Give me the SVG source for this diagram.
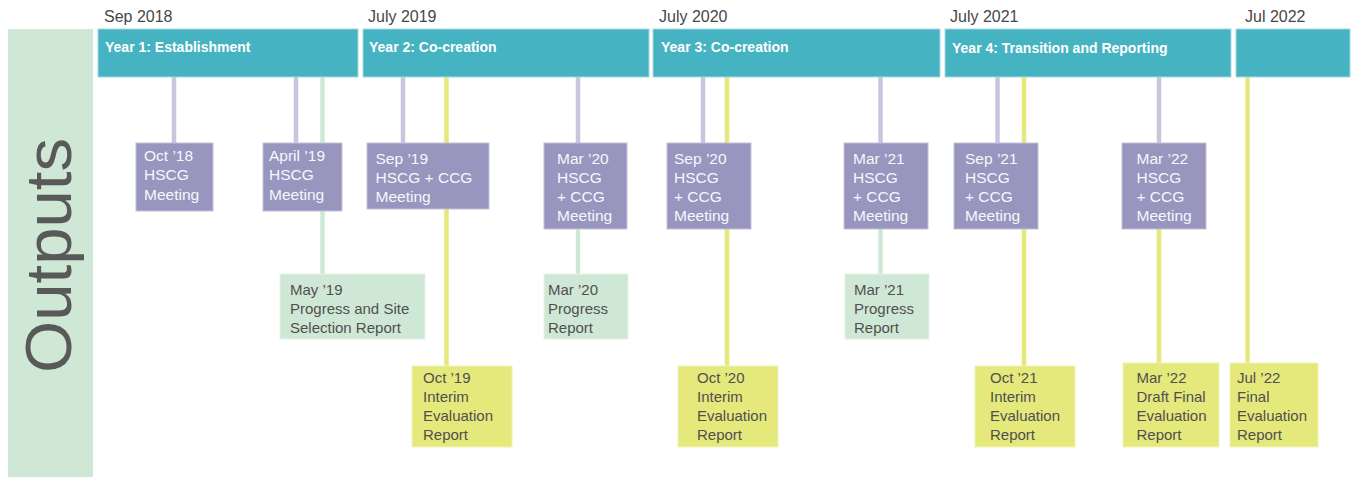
<svg xmlns="http://www.w3.org/2000/svg" width="1362" height="477" viewBox="0 0 1362 477">
<style>
text{font-family:"Liberation Sans",Arial,sans-serif}
.date{font-size:16px;fill:#474747}
.bar{fill:#45b3c2;stroke:#a6d9e0;stroke-width:1}
.bt{font-size:14px;font-weight:bold;fill:#ffffff}
.pb{fill:#9896bf;stroke:#c2c1dc;stroke-width:1}
.gb{fill:#cfe8d5;stroke:#e4f3e8;stroke-width:1}
.yb{fill:#e5e87b;stroke:#f1f3b6;stroke-width:1}
.pt{font-size:15.5px;fill:#f7f7fb}
.dt{font-size:15px;fill:#505050}
.lp{stroke:#c6c6df;stroke-width:4.5}
.lg{stroke:#cfe8d5;stroke-width:4.5}
.ly{stroke:#e5e87b;stroke-width:4.5}
</style>
<rect width="1362" height="477" fill="#ffffff"/>
<g id="outputs-label">
<rect x="8" y="29" width="85" height="448" fill="#cfe8d5"/>
<text transform="translate(71,373) rotate(-90)" font-size="64" fill="#595959" textLength="235" lengthAdjust="spacingAndGlyphs">Outputs</text>
</g>
<g id="dates">
<text class="date" x="104" y="22">Sep 2018</text>
<text class="date" x="368" y="22">July 2019</text>
<text class="date" x="659" y="22">July 2020</text>
<text class="date" x="950" y="22">July 2021</text>
<text class="date" x="1245" y="22">Jul 2022</text>
</g>
<g id="connectors">
<line class="lp" x1="174" y1="77" x2="174" y2="143"/>
<line class="lp" x1="296" y1="77" x2="296" y2="143"/>
<line class="lg" x1="322.5" y1="77" x2="322.5" y2="274"/>
<line class="lp" x1="403" y1="77" x2="403" y2="143"/>
<line class="ly" x1="446.5" y1="77" x2="446.5" y2="366"/>
<line class="lp" x1="578" y1="77" x2="578" y2="143"/>
<line class="lg" x1="578" y1="229" x2="578" y2="274"/>
<line class="lp" x1="703" y1="77" x2="703" y2="143"/>
<line class="ly" x1="727" y1="77" x2="727" y2="366"/>
<line class="lp" x1="880.5" y1="77" x2="880.5" y2="143"/>
<line class="lg" x1="880.5" y1="229" x2="880.5" y2="274"/>
<line class="lp" x1="997.5" y1="77" x2="997.5" y2="143"/>
<line class="ly" x1="1024" y1="77" x2="1024" y2="366"/>
<line class="lp" x1="1159" y1="77" x2="1159" y2="143"/>
<line class="ly" x1="1159" y1="229" x2="1159" y2="363"/>
<line class="ly" x1="1247.5" y1="77" x2="1247.5" y2="363"/>
</g>
<g id="year1"><rect class="bar" x="98" y="29" width="260" height="48"/><text class="bt" x="105" y="52">Year 1: Establishment</text></g>
<g id="year2"><rect class="bar" x="363" y="29" width="286" height="48"/><text class="bt" x="369" y="52">Year 2: Co-creation</text></g>
<g id="year3"><rect class="bar" x="653" y="29" width="287" height="48"/><text class="bt" x="661" y="52">Year 3: Co-creation</text></g>
<g id="year4"><rect class="bar" x="945" y="29" width="286" height="48"/><text class="bt" x="952" y="53">Year 4: Transition and Reporting</text></g>
<g id="year5"><rect class="bar" x="1236" y="29" width="114" height="48"/></g>

<g id="oct18"><rect class="pb" x="136" y="143" width="77" height="68"/><text class="pt"><tspan x="144" y="161">Oct ’18</tspan><tspan x="144" y="180">HSCG</tspan><tspan x="144" y="199.5">Meeting</tspan></text></g>
<g id="apr19"><rect class="pb" x="263" y="143" width="79" height="68"/><text class="pt"><tspan x="269" y="161">April ’19</tspan><tspan x="269" y="180">HSCG</tspan><tspan x="269" y="199.5">Meeting</tspan></text></g>
<g id="sep19"><rect class="pb" x="367" y="143" width="122" height="66"/><text class="pt"><tspan x="375.5" y="164">Sep ’19</tspan><tspan x="375.5" y="183">HSCG + CCG</tspan><tspan x="375.5" y="202">Meeting</tspan></text></g>
<g id="mar20"><rect class="pb" x="544" y="143" width="83" height="86"/><text class="pt"><tspan x="557" y="163.5">Mar ’20</tspan><tspan x="557" y="182.5">HSCG</tspan><tspan x="557" y="201.5">+ CCG</tspan><tspan x="557" y="221">Meeting</tspan></text></g>
<g id="sep20"><rect class="pb" x="667" y="143" width="84" height="86"/><text class="pt"><tspan x="674" y="163.5">Sep ’20</tspan><tspan x="674" y="182.5">HSCG</tspan><tspan x="674" y="201.5">+ CCG</tspan><tspan x="674" y="221">Meeting</tspan></text></g>
<g id="mar21"><rect class="pb" x="844" y="143" width="84" height="86"/><text class="pt"><tspan x="853" y="163.5">Mar ’21</tspan><tspan x="853" y="182.5">HSCG</tspan><tspan x="853" y="201.5">+ CCG</tspan><tspan x="853" y="221">Meeting</tspan></text></g>
<g id="sep21"><rect class="pb" x="954" y="143" width="84" height="86"/><text class="pt"><tspan x="965" y="163.5">Sep ’21</tspan><tspan x="965" y="182.5">HSCG</tspan><tspan x="965" y="201.5">+ CCG</tspan><tspan x="965" y="221">Meeting</tspan></text></g>
<g id="mar22"><rect class="pb" x="1122" y="143" width="84" height="86"/><text class="pt"><tspan x="1136.5" y="163.5">Mar ’22</tspan><tspan x="1136.5" y="182.5">HSCG</tspan><tspan x="1136.5" y="201.5">+ CCG</tspan><tspan x="1136.5" y="221">Meeting</tspan></text></g>

<g id="may19"><rect class="gb" x="280" y="274" width="145" height="65"/><text class="dt"><tspan x="290" y="295">May ’19</tspan><tspan x="290" y="314">Progress and Site</tspan><tspan x="290" y="333">Selection Report</tspan></text></g>
<g id="mar20p"><rect class="gb" x="544" y="274" width="84" height="65"/><text class="dt"><tspan x="548" y="295">Mar ’20</tspan><tspan x="548" y="314">Progress</tspan><tspan x="548" y="333">Report</tspan></text></g>
<g id="mar21p"><rect class="gb" x="845" y="274" width="84" height="65"/><text class="dt"><tspan x="854" y="295">Mar ’21</tspan><tspan x="854" y="314">Progress</tspan><tspan x="854" y="333">Report</tspan></text></g>

<g id="oct19"><rect class="yb" x="412" y="366" width="100" height="81"/><text class="dt"><tspan x="423" y="382.5">Oct ’19</tspan><tspan x="423" y="401.5">Interim</tspan><tspan x="423" y="420.5">Evaluation</tspan><tspan x="423" y="440">Report</tspan></text></g>
<g id="oct20"><rect class="yb" x="678" y="366" width="100" height="81"/><text class="dt"><tspan x="697" y="382.5">Oct ’20</tspan><tspan x="697" y="401.5">Interim</tspan><tspan x="697" y="420.5">Evaluation</tspan><tspan x="697" y="440">Report</tspan></text></g>
<g id="oct21"><rect class="yb" x="975" y="366" width="100" height="81"/><text class="dt"><tspan x="990" y="382.5">Oct ’21</tspan><tspan x="990" y="401.5">Interim</tspan><tspan x="990" y="420.5">Evaluation</tspan><tspan x="990" y="440">Report</tspan></text></g>
<g id="mar22r"><rect class="yb" x="1123" y="363" width="96" height="84"/><text class="dt"><tspan x="1136.5" y="382.5">Mar ’22</tspan><tspan x="1136.5" y="401.5">Draft Final</tspan><tspan x="1136.5" y="420.5">Evaluation</tspan><tspan x="1136.5" y="440">Report</tspan></text></g>
<g id="jul22"><rect class="yb" x="1230" y="363" width="88" height="84"/><text class="dt"><tspan x="1237" y="382.5">Jul ’22</tspan><tspan x="1237" y="401.5">Final</tspan><tspan x="1237" y="420.5">Evaluation</tspan><tspan x="1237" y="440">Report</tspan></text></g>
</svg>
